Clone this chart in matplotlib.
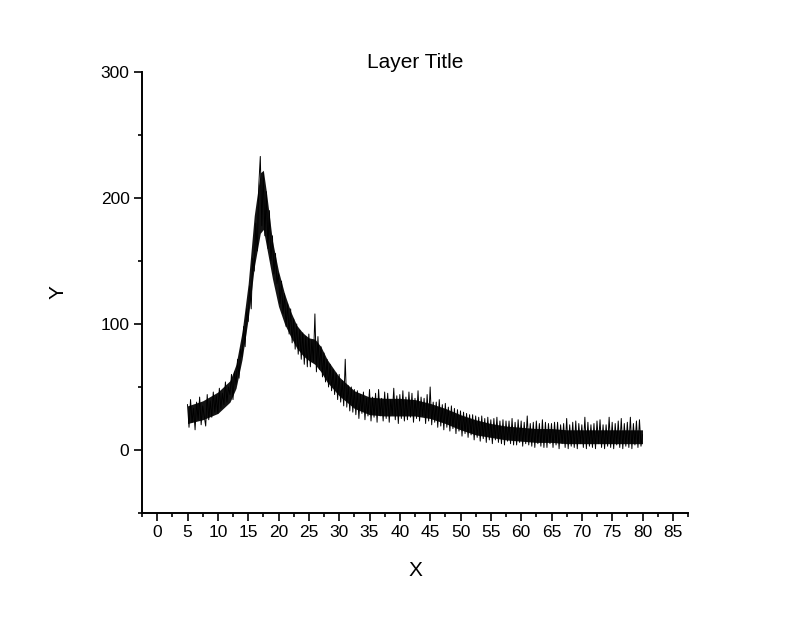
import matplotlib
matplotlib.use('Agg')
import matplotlib.pyplot as plt
import numpy as np
from matplotlib.ticker import MultipleLocator

plt.rcParams['font.family'] = ['Liberation Sans', 'DejaVu Sans']

# scan range (2theta)
x_start = 5.0
x_end = 80.0

# intensities, 0.25 step
intensity = [
    36, 18, 40, 22, 33, 16, 38, 24, 42, 20, 35, 27, 19, 44, 24, 39,        # 5-9
    26, 46, 30, 43, 29, 49, 33, 45, 36, 54, 38, 50, 44, 60, 40, 62,        # 9-13
    52, 72, 57, 80, 74, 98, 82, 112, 102, 130, 112, 152, 142, 180, 158, 210,  # 13-17
    233, 178, 220, 170, 205, 160, 190, 150, 170, 140, 156, 132, 140, 116, 134, 108,  # 17-21
    124, 98, 116, 92, 112, 85, 104, 80, 100, 76, 95, 72, 93, 68, 90, 66,   # 21-25
    92, 66, 87, 70, 108, 62, 90, 64, 82, 58, 77, 54, 72, 50, 68, 47,       # 25-29
    64, 44, 61, 40, 60, 38, 55, 35, 72, 34, 51, 31, 50, 30, 48, 28,        # 29-33
    47, 25, 44, 29, 46, 24, 41, 27, 48, 23, 42, 26, 45, 22, 48, 27,        # 33-37
    41, 23, 46, 25, 45, 22, 40, 28, 49, 24, 43, 21, 44, 25, 47, 23,        # 37-41
    42, 24, 46, 26, 45, 22, 41, 25, 47, 23, 42, 27, 41, 21, 44, 23,        # 41-45
    50, 20, 38, 22, 38, 18, 40, 19, 36, 16, 37, 18, 34, 15, 35, 17,        # 45-49
    33, 13, 32, 15, 31, 11, 30, 13, 29, 10, 28, 12, 28, 8, 27, 10,         # 49-53
    26, 7, 27, 9, 25, 6, 26, 8, 24, 5, 25, 8, 26, 6, 23, 5,                # 53-57
    24, 4, 23, 7, 23, 5, 25, 4, 22, 4, 24, 6, 23, 3, 22, 5,                # 57-61
    27, 4, 21, 3, 22, 2, 23, 5, 21, 3, 24, 2, 22, 2, 21, 5,                # 61-65
    21, 2, 22, 4, 22, 1, 20, 5, 21, 2, 25, 1, 20, 3, 22, 2,                # 65-69
    23, 1, 21, 5, 20, 2, 26, 1, 22, 3, 20, 2, 21, 1, 23, 5,                # 69-73
    24, 2, 20, 1, 20, 3, 26, 2, 22, 1, 21, 4, 23, 2, 25, 1,                # 73-77
    21, 3, 22, 2, 26, 1, 21, 4, 23, 2, 24, 3, 12,                          # 77-80
]

# dense core of the noisy trace (lower / upper edge)
band_x = [5, 7.5, 10, 12, 13, 14, 15, 16, 17, 17.5, 18, 19, 20, 21, 22, 23, 24,
          25, 26, 27, 28, 30, 32.5, 35, 37.5, 40, 42.5, 45, 47.5, 50, 52.5, 55,
          57.5, 60, 62.5, 65, 67.5, 70, 72.5, 75, 77.5, 80]
band_lo = [21, 24, 29, 38, 49, 72, 104, 145, 172, 175, 162, 136, 114, 100, 90, 81, 75,
           71, 68, 62, 54, 43, 33, 28, 27, 27, 27, 25, 21, 16, 12, 10,
           8, 7, 6, 6, 5, 5, 5, 5, 5, 5]
band_hi = [35, 39, 46, 55, 68, 94, 132, 186, 220, 222, 205, 166, 142, 124, 110, 99, 93,
           89, 88, 82, 72, 58, 47, 42, 41, 41, 40, 37, 33, 28, 24, 21,
           19, 18, 17, 17, 16, 16, 16, 16, 16, 16]

x = np.linspace(x_start, x_end, len(intensity))

fig = plt.figure(figsize=(8, 6.17), dpi=100)
ax = fig.add_axes([0.1775, 0.1686, 0.6825, 0.7147])
ax.fill_between(band_x, band_lo, band_hi, color='#141414', lw=0)
ax.plot(x, intensity, color='black', lw=0.7)

ax.set_xlim(-2.5, 87.5)
ax.set_ylim(-50, 300)
ax.xaxis.set_major_locator(MultipleLocator(5))
ax.xaxis.set_minor_locator(MultipleLocator(2.5))
ax.yaxis.set_major_locator(MultipleLocator(100))
ax.yaxis.set_minor_locator(MultipleLocator(50))

ax.spines['top'].set_visible(False)
ax.spines['right'].set_visible(False)
ax.spines['left'].set_linewidth(1.4)
ax.spines['bottom'].set_linewidth(1.4)
ax.tick_params(which='major', direction='out', length=5.5, width=1.2, labelsize=12.5)
ax.tick_params(which='minor', direction='out', length=3, width=1.2)

ax.set_title('Layer Title', fontsize=15, pad=3)
ax.set_xlabel('X', fontsize=15, labelpad=15)
ax.set_ylabel('Y', fontsize=15, labelpad=24)

fig.savefig('out.png', dpi=100)
